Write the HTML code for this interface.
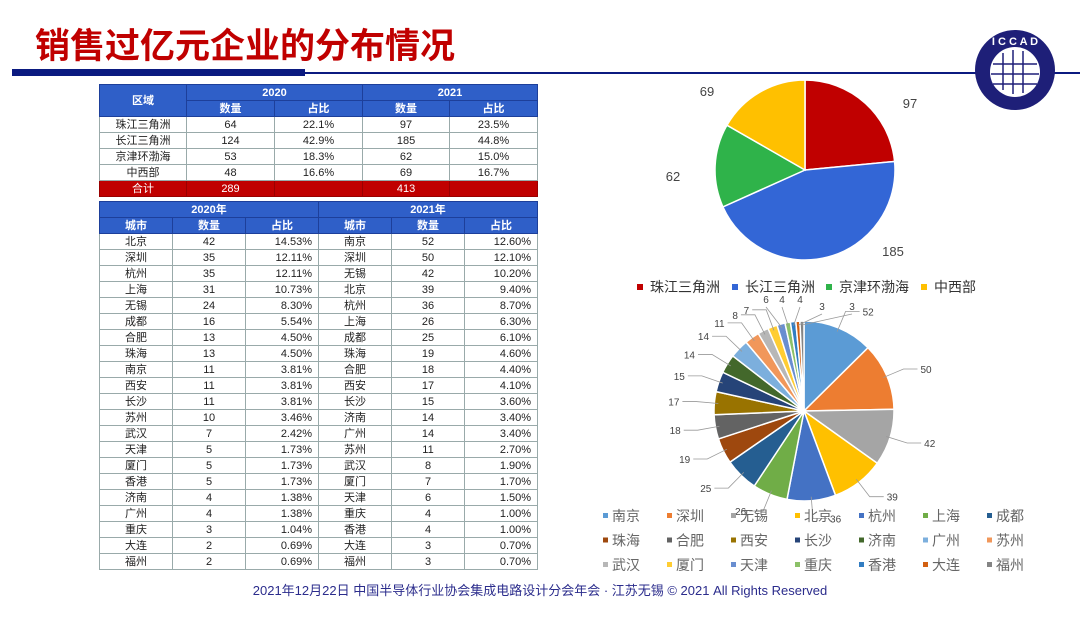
<!DOCTYPE html>
<html><head><meta charset="utf-8">
<style>
body{margin:0;width:1080px;height:621px;background:#fff;position:relative;overflow:hidden;font-family:"Liberation Sans","Noto Sans CJK SC",sans-serif;}
.t{position:absolute;left:35px;top:18px;font-size:35px;font-weight:bold;color:#c00000;letter-spacing:0;font-family:"Noto Sans CJK SC",sans-serif;}
table{position:absolute;border-collapse:collapse;font-size:11px;color:#222;table-layout:fixed;}
td{border:1px solid #9aa;text-align:center;padding:0;height:15px;line-height:14px;white-space:nowrap;overflow:hidden}
.h td{background:#2f5fc8;color:#fff;font-weight:bold;border-color:#1d3f9a}
.r td{background:#c00000;color:#fff;border-color:#900}
.rt{text-align:right;padding-right:6px}
.foot{position:absolute;top:580px;left:0;width:1080px;text-align:center;font-size:13px;color:#2b2c8c}
</style></head><body>
<div class="t">销售过亿元企业的分布情况</div>
<div style="position:absolute;left:12px;top:69px;width:293px;height:7px;background:#0b1a80"></div>
<div style="position:absolute;left:305px;top:72px;width:775px;height:1.5px;background:#0b1a80"></div>
<svg style="position:absolute;left:973px;top:28px" width="84" height="84" viewBox="0 0 84 84">
<circle cx="42" cy="42" r="40" fill="#1e1f78"/><circle cx="42" cy="44" r="25" fill="#fff"/>
<g stroke="#1e1f78" stroke-width="1.5"><line x1="30" y1="25" x2="30" y2="62"/><line x1="40" y1="22" x2="40" y2="66"/><line x1="50" y1="23" x2="50" y2="65"/><line x1="20" y1="36" x2="64" y2="36"/><line x1="18" y1="46" x2="66" y2="46"/><line x1="20" y1="56" x2="64" y2="56"/></g>
<text x="42" y="17" fill="#fff" font-size="11" font-weight="bold" text-anchor="middle" font-family="Liberation Sans">I C C A D</text>
</svg>

<table style="left:99px;top:84px;width:438px">
<colgroup><col style="width:87px"><col style="width:88px"><col style="width:88px"><col style="width:87px"><col style="width:88px"></colgroup>
<tr class="h"><td rowspan="2">区域</td><td colspan="2">2020</td><td colspan="2">2021</td></tr>
<tr class="h"><td>数量</td><td>占比</td><td>数量</td><td>占比</td></tr>
<tr><td>珠江三角洲</td><td>64</td><td>22.1%</td><td>97</td><td>23.5%</td></tr>
<tr><td>长江三角洲</td><td>124</td><td>42.9%</td><td>185</td><td>44.8%</td></tr>
<tr><td>京津环渤海</td><td>53</td><td>18.3%</td><td>62</td><td>15.0%</td></tr>
<tr><td>中西部</td><td>48</td><td>16.6%</td><td>69</td><td>16.7%</td></tr>
<tr class="r"><td>合计</td><td>289</td><td></td><td>413</td><td></td></tr>
</table>

<table id="t2" style="left:99px;top:201px;width:438px">
<colgroup><col style="width:73px"><col style="width:73px"><col style="width:73px"><col style="width:73px"><col style="width:73px"><col style="width:73px"></colgroup>
<tr class="h"><td colspan="3">2020年</td><td colspan="3">2021年</td></tr>
<tr class="h"><td>城市</td><td>数量</td><td>占比</td><td>城市</td><td>数量</td><td>占比</td></tr>
</table>

<svg id="pie" style="position:absolute;left:0;top:0" width="1080" height="621"></svg>
<div class="foot">2021年12月22日 中国半导体行业协会集成电路设计分会年会 · 江苏无锡 © 2021 All Rights Reserved</div>
<script>
var d=[["北京",42,"14.53%","南京",52,"12.60%"],["深圳",35,"12.11%","深圳",50,"12.10%"],["杭州",35,"12.11%","无锡",42,"10.20%"],["上海",31,"10.73%","北京",39,"9.40%"],["无锡",24,"8.30%","杭州",36,"8.70%"],["成都",16,"5.54%","上海",26,"6.30%"],["合肥",13,"4.50%","成都",25,"6.10%"],["珠海",13,"4.50%","珠海",19,"4.60%"],["南京",11,"3.81%","合肥",18,"4.40%"],["西安",11,"3.81%","西安",17,"4.10%"],["长沙",11,"3.81%","长沙",15,"3.60%"],["苏州",10,"3.46%","济南",14,"3.40%"],["武汉",7,"2.42%","广州",14,"3.40%"],["天津",5,"1.73%","苏州",11,"2.70%"],["厦门",5,"1.73%","武汉",8,"1.90%"],["香港",5,"1.73%","厦门",7,"1.70%"],["济南",4,"1.38%","天津",6,"1.50%"],["广州",4,"1.38%","重庆",4,"1.00%"],["重庆",3,"1.04%","香港",4,"1.00%"],["大连",2,"0.69%","大连",3,"0.70%"],["福州",2,"0.69%","福州",3,"0.70%"]];
var t=document.getElementById("t2"),h="";
d.forEach(function(r){h+="<tr><td>"+r[0]+"</td><td>"+r[1]+"</td><td class='rt'>"+r[2]+"</td><td>"+r[3]+"</td><td>"+r[4]+"</td><td class='rt'>"+r[5]+"</td></tr>";});
t.insertAdjacentHTML("beforeend",h);
var s="";
function pie(cx,cy,r,vals,cols){var tot=vals.reduce(function(a,b){return a+b},0),a=-Math.PI/2,o=[];
vals.forEach(function(v,i){var b=a+v/tot*2*Math.PI;var x1=cx+r*Math.cos(a),y1=cy+r*Math.sin(a),x2=cx+r*Math.cos(b),y2=cy+r*Math.sin(b);
s+='<path d="M'+cx+','+cy+'L'+x1+','+y1+'A'+r+','+r+' 0 '+(b-a>Math.PI?1:0)+' 1 '+x2+','+y2+'Z" fill="'+cols[i]+'" stroke="#fff" stroke-width="1.5"/>';o.push((a+b)/2);a=b;});return o;}
pie(805,170,90,[97,185,62,69],["#c00000","#3366d6","#2fb34a","#ffc000"]);
[["97",910,108],["185",893,256],["62",673,181],["69",707,96]].forEach(function(l){s+='<text x="'+l[1]+'" y="'+l[2]+'" font-size="13" fill="#444" text-anchor="middle">'+l[0]+'</text>';});
var lg=[["珠江三角洲","#c00000",640],["长江三角洲","#3366d6",735],["京津环渤海","#2fb34a",829],["中西部","#ffc000",924]];
lg.forEach(function(l){s+='<rect x="'+(l[2]-3)+'" y="284" width="6" height="6" fill="'+l[1]+'"/><text x="'+(l[2]+10)+'" y="292" font-size="14" fill="#333">'+l[0]+'</text>';});
var v2=[52,50,42,39,36,26,25,19,18,17,15,14,14,11,8,7,6,4,4,3,3];
var c2=["#5b9bd5","#ed7d31","#a5a5a5","#ffc000","#4472c4","#70ad47","#255e91","#9e480e","#636363","#997300","#264478","#43682b","#7cafdd","#f1975a","#b7b7b7","#ffcd33","#698ed0","#8cc168","#327dc2","#d26012","#848484"];
var cx=804,cy=411,R=90,ang=pie(cx,cy,R,v2,c2);
var lp={16:[766,303],17:[782,303],18:[800,303],19:[822,310],20:[852,310]};
ang.forEach(function(a,i){var c=Math.cos(a),sn=Math.sin(a);var x1=cx+(R-4)*c,y1=cy+(R-4)*sn;
if(lp[i]){var p=lp[i];s+='<polyline points="'+x1+','+y1+' '+p[0]+','+(p[1]+4)+'" fill="none" stroke="#999" stroke-width="0.8"/><text x="'+p[0]+'" y="'+p[1]+'" font-size="10" fill="#444" text-anchor="middle">'+v2[i]+'</text>';return;}
var rr=R+18,x2=cx+rr*c,y2=cy+rr*sn;var x3=x2+(c>0?14:-14);
s+='<polyline points="'+x1+','+y1+' '+x2+','+y2+' '+x3+','+y2+'" fill="none" stroke="#999" stroke-width="0.8"/><text x="'+(x3+(c>0?3:-3))+'" y="'+(y2+4)+'" font-size="10" fill="#444" text-anchor="'+(c>0?'start':'end')+'">'+v2[i]+'</text>';});
var names=["南京","深圳","无锡","北京","杭州","上海","成都","珠海","合肥","西安","长沙","济南","广州","苏州","武汉","厦门","天津","重庆","香港","大连","福州"];
names.forEach(function(n,i){var x=603+(i%7)*64,y=521+Math.floor(i/7)*24.5;s+='<rect x="'+x+'" y="'+(y-8)+'" width="5" height="5" fill="'+c2[i]+'"/><text x="'+(x+9)+'" y="'+y+'" font-size="14" fill="#666">'+n+'</text>';});
document.getElementById("pie").innerHTML=s;
</script>
</body></html>
